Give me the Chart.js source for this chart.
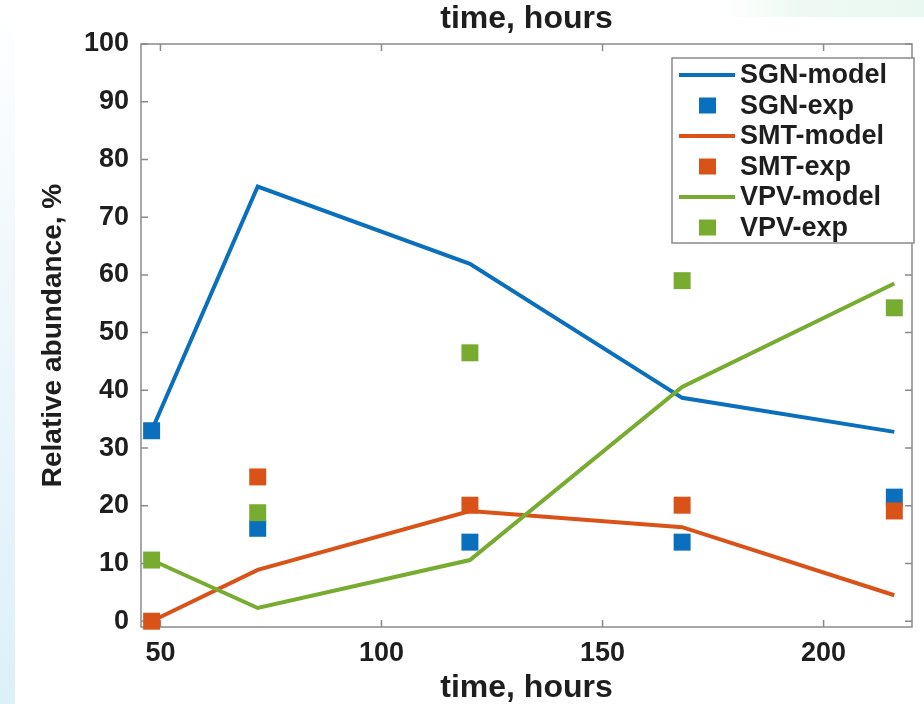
<!DOCTYPE html>
<html>
<head>
<meta charset="utf-8">
<script src="https://cdn.jsdelivr.net/npm/chart.js@4/dist/chart.umd.min.js"></script>
<style>
html,body{margin:0;padding:0;width:924px;height:704px;overflow:hidden;background:#fff;}
#bgL{position:absolute;left:0;top:0;width:15px;height:704px;background:linear-gradient(to bottom,#ffffff 0%,#f1f8fc 35%,#dcf0fa 100%);}
#bgT{position:absolute;left:720px;top:0;width:204px;height:17px;background:linear-gradient(to right,#ffffff 0%,#eef9f3 40%,#e9f8f0 100%);}
#wrap{position:absolute;left:0;top:0;width:924px;height:704px;}
</style>
</head>
<body>
<div id="bgL"></div><div id="bgT"></div>
<div id="wrap"><canvas id="c" width="924" height="704"></canvas></div>
<script>
// ---- data ----
const timeHours = [48, 72, 120, 168, 216];
const sgnModel = [33.0, 75.3, 61.9, 38.7, 32.8];
const sgnExp   = [33.0, 16.1, 13.7, 13.7, 21.5];
const smtModel = [0.0, 8.9, 19.1, 16.3, 4.5];
const smtExp   = [0.0, 25.0, 20.1, 20.1, 19.1];
const vpvModel = [10.6, 2.3, 10.6, 40.6, 58.5];
const vpvExp   = [10.6, 18.8, 46.5, 59.0, 54.3];
const seriesLabels = ['SGN-model', 'SGN-exp', 'SMT-model', 'SMT-exp', 'VPV-model', 'VPV-exp'];
const xTicks = [50, 100, 150, 200];
const yTicks = [0, 10, 20, 30, 40, 50, 60, 70, 80, 90, 100];
const xTitle = 'time, hours';
const yTitle = 'Relative abundance, %';

const BLUE = '#0a6fbd', ORANGE = '#d95319', GREEN = '#77ac30';
const FONT = '"Liberation Sans", Arial, Helvetica, sans-serif';
const TXT = '#1e1e1e';

const pts = ys => timeHours.map((t, i) => ({x: t, y: ys[i]}));
function lineDs(label, ys, color, order) {
  return {label, data: pts(ys), showLine: true, borderColor: color, backgroundColor: color,
    borderWidth: 4, pointRadius: 0, pointHoverRadius: 0, clip: false, order};
}
function markDs(label, ys, color, order) {
  return {label, data: pts(ys), showLine: false, borderColor: color, backgroundColor: color,
    pointStyle: 'rect', pointRadius: 12, pointBorderWidth: 0, pointHoverRadius: 12, clip: false, order};
}

const datasets = [
  lineDs(seriesLabels[0], sgnModel, BLUE, 6),
  markDs(seriesLabels[1], sgnExp, BLUE, 5),
  lineDs(seriesLabels[2], smtModel, ORANGE, 4),
  markDs(seriesLabels[3], smtExp, ORANGE, 3),
  lineDs(seriesLabels[4], vpvModel, GREEN, 2),
  markDs(seriesLabels[5], vpvExp, GREEN, 1)
];

const framePlugin = {
  id: 'frame',
  beforeDatasetsDraw(chart) {
    const {ctx, chartArea: a, scales} = chart;
    ctx.save();
    ctx.strokeStyle = '#8a8a8a';
    ctx.lineWidth = 1.5;
    ctx.strokeRect(a.left, a.top, a.right - a.left, a.bottom - a.top);
    const L = 7;
    ctx.beginPath();
    scales.x.ticks.forEach(t => {
      const px = scales.x.getPixelForValue(t.value);
      ctx.moveTo(px, a.bottom); ctx.lineTo(px, a.bottom - L);
      ctx.moveTo(px, a.top); ctx.lineTo(px, a.top + L);
    });
    scales.y.ticks.forEach(t => {
      const py = scales.y.getPixelForValue(t.value);
      ctx.moveTo(a.left, py); ctx.lineTo(a.left + L, py);
      ctx.moveTo(a.right, py); ctx.lineTo(a.right - L, py);
    });
    ctx.stroke();
    ctx.restore();
  }
};

const legendPlugin = {
  id: 'boxLegend',
  afterDraw(chart) {
    const {ctx} = chart;
    const x0 = 672, y0 = 58, w = 242, h = 185;
    ctx.save();
    ctx.fillStyle = '#ffffff';
    ctx.fillRect(x0, y0, w, h);
    ctx.strokeStyle = '#8a8a8a';
    ctx.lineWidth = 1.5;
    ctx.strokeRect(x0, y0, w, h);
    ctx.font = 'bold 27px ' + FONT;
    ctx.textBaseline = 'middle';
    ctx.textAlign = 'left';
    chart.data.datasets.forEach((ds, i) => {
      const cy = 75 + i * 30.5;
      if (ds.showLine) {
        ctx.strokeStyle = ds.borderColor;
        ctx.lineWidth = 4;
        ctx.beginPath(); ctx.moveTo(679, cy); ctx.lineTo(735, cy); ctx.stroke();
      } else {
        ctx.fillStyle = ds.backgroundColor;
        ctx.fillRect(699, cy - 8, 17, 16);
      }
      ctx.fillStyle = TXT;
      ctx.fillText(ds.label, 740, cy + 1);
    });
    ctx.restore();
  }
};

const tickFont = {family: FONT, size: 27, weight: 'bold'};
const noGrid = {display: false, drawTicks: false, tickLength: 0};

new Chart(document.getElementById('c'), {
  type: 'scatter',
  data: {datasets},
  options: {
    responsive: false,
    animation: false,
    devicePixelRatio: 1,
    layout: {padding: {left: 0, right: 7, top: 0, bottom: 0}},
    plugins: {legend: {display: false}, tooltip: {enabled: false}},
    scales: {
      x: {
        type: 'linear', position: 'bottom', min: 45.6, max: 220,
        afterBuildTicks: s => { s.ticks = xTicks.map(v => ({value: v})); },
        afterFit: s => { s.height = 77; },
        grid: noGrid, border: {display: false},
        ticks: {font: tickFont, color: TXT, padding: 10, maxRotation: 0, autoSkip: false},
        title: {display: true, text: xTitle, color: TXT, font: {family: FONT, size: 32, weight: 'bold', lineHeight: 1}, padding: {top: 0, bottom: 0}}
      },
      x2: {
        type: 'linear', position: 'top', min: 45.6, max: 220,
        afterFit: s => { s.height = 44; },
        grid: noGrid, border: {display: false},
        ticks: {display: false},
        title: {display: true, text: xTitle, color: TXT, font: {family: FONT, size: 32, weight: 'bold', lineHeight: 1}, padding: {top: 3, bottom: 0}}
      },
      y: {
        type: 'linear', position: 'left', min: -1, max: 100,
        afterBuildTicks: s => { s.ticks = yTicks.map(v => ({value: v})); },
        afterFit: s => { s.width = 141; },
        grid: noGrid, border: {display: false},
        ticks: {font: tickFont, color: TXT, padding: 12, autoSkip: false},
        title: {display: true, text: yTitle, color: TXT, font: {family: FONT, size: 28, weight: 'bold', lineHeight: 1}, padding: {top: 39, bottom: 0}}
      }
    }
  },
  plugins: [framePlugin, legendPlugin]
});
</script>
</body>
</html>
